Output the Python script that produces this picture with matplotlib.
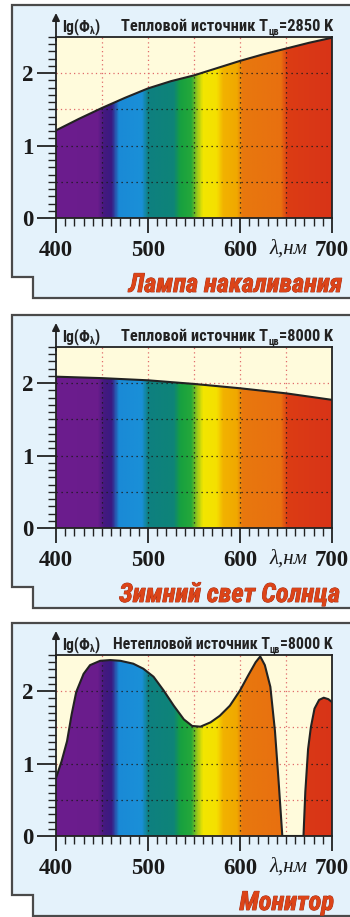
import matplotlib
matplotlib.use('Agg')
import matplotlib.pyplot as plt
import matplotlib.patheffects as pe
from matplotlib.patches import Polygon
from matplotlib.colors import LinearSegmentedColormap
from matplotlib.ticker import MultipleLocator
import numpy as np

W, H = 350, 917

# ── data ─────────────────────────────────────────────────────────────────
lamp_wl = [400, 425, 450, 475, 500, 525, 550, 575, 600, 625, 650, 675, 700]
lamp_lg = [1.21, 1.37, 1.52, 1.66, 1.79, 1.89, 1.97, 2.07, 2.17, 2.26, 2.34, 2.42, 2.49]

sun_wl = [400, 450, 500, 550, 600, 650, 700]
sun_lg = [2.09, 2.07, 2.04, 1.99, 1.93, 1.86, 1.77]

mon_wl = [400, 406, 412, 417, 422, 430, 437, 448, 459, 470, 484, 495, 506, 517,
          528, 539, 548, 557, 568, 578, 589, 600, 609, 617, 622, 627, 633, 638,
          642, 646, 669, 671, 674, 677, 681, 686, 691, 696, 700]
mon_lg = [0.80, 1.03, 1.31, 1.68, 1.99, 2.24, 2.36, 2.42, 2.43, 2.42, 2.38, 2.31,
          2.20, 2.01, 1.80, 1.61, 1.52, 1.51, 1.57, 1.66, 1.80, 2.01, 2.22, 2.40,
          2.48, 2.36, 2.06, 1.45, 0.75, 0.00, 0.00, 0.61, 1.20, 1.50, 1.76, 1.88,
          1.91, 1.89, 1.85]

kinds = ['Тепловой источник', 'Тепловой источник', 'Нетепловой источник']
temps = ['2850', '8000', '8000']
captions = ['Лампа накаливания', 'Зимний свет Солнца', 'Монитор']
x_ticks = [400, 500, 600, 700]
y_ticks = [0, 1, 2]

# spectrum colours by wavelength
spec_stops = [(400, '#6c1d8e'), (445, '#6a1c8c'), (452, '#44197f'), (460, '#3a1a82'),
              (468, '#1a8ad6'), (493, '#1a90d8'), (500, '#0e8080'), (528, '#0e8478'),
              (535, '#17a040'), (547, '#25a83a'), (553, '#94c41c'), (560, '#f2e600'),
              (575, '#f5e000'), (582, '#f2b200'), (597, '#f0a800'), (603, '#e8780e'),
              (645, '#e87010'), (652, '#dc3c14'), (700, '#d83418')]
spec = LinearSegmentedColormap.from_list(
    'spec', [((w - 400) / 300, c) for w, c in spec_stops])

NARROW = ['Roboto Condensed', 'Roboto', 'DejaVu Sans']
DARK = '#222222'

fig = plt.figure(figsize=(W / 100, H / 100), dpi=100)
fig.patch.set_facecolor('white')
renderer = fig.canvas.get_renderer()


def fx(x):
    return x / W


def fy(y):
    return 1 - y / H


def width_at(s, size, **kw):
    t = fig.text(0, 0, s, fontsize=size, **kw)
    w = t.get_window_extent(renderer).width
    t.remove()
    return w


def put_right(x_right, y_base, s, size, **kw):
    t = fig.text(fx(x_right), fy(y_base), s, ha='right', va='baseline',
                 fontsize=size, **kw)
    return x_right - t.get_window_extent(renderer).width


hdr_kw = dict(family=NARROW, fontweight='bold', color=DARK)
cap_kw = dict(family=NARROW, fontweight='bold', style='italic')
SUB = 0.62

# header sizes fitted to the span each header takes in the reference
hdr_start = [122, 122, 113]
hdr_sizes = []
for i in range(3):
    w10 = (width_at(kinds[i] + ' T', 10, **hdr_kw)
           + width_at('цв', 10 * SUB, **hdr_kw)
           + width_at(f'={temps[i]} K', 10, **hdr_kw))
    hdr_sizes.append(10 * (333 - hdr_start[i]) / w10)
lg_size = min(hdr_sizes)
cap_size = 10 * 214 / width_at(captions[0], 10, **cap_kw)

panels = [(lamp_wl, lamp_lg), (sun_wl, sun_lg), (mon_wl, mon_lg)]
offsets = [0, 310, 618]
cap_right = [342, 340, 334]

for i, ((wl, lg), dy) in enumerate(zip(panels, offsets)):
    # background box with the notch at lower left
    box = [(12, 5), (360, 5), (360, 298), (33, 298), (33, 277), (12, 277)]
    fig.add_artist(Polygon([(fx(x), fy(y + dy)) for x, y in box], closed=True,
                           transform=fig.transFigure, facecolor='#e4f2fb',
                           edgecolor='#4a4a4a', lw=1.6, zorder=-5))

    ax = fig.add_axes([fx(56), fy(218 + dy), 276 / W, 181 / H])
    ax.set_facecolor('#fffbdc')

    # red dotted grid in the empty part
    gx = [450, 500, 550, 600, 650]
    gy = [0.5, 1.0, 1.5, 2.0]
    ax.vlines(gx, 0, 2.5, colors='#e06a6a', linestyles=(0, (1, 2.5)), lw=0.9, zorder=1)
    ax.hlines(gy, 400, 700, colors='#e06a6a', linestyles=(0, (1, 2.5)), lw=0.9, zorder=1)

    verts = [(wl[0], 0)] + list(zip(wl, lg)) + [(wl[-1], 0)]
    clip = Polygon(verts, closed=True, facecolor='none', edgecolor='none')
    ax.add_patch(clip)

    grad = np.linspace(0, 1, 600).reshape(1, -1)
    im = ax.imshow(grad, cmap=spec, extent=[400, 700, 0, 2.5], aspect='auto',
                   interpolation='bilinear', zorder=2)
    im.set_clip_path(clip)

    gv = ax.vlines(gx, 0, 2.5, colors='#1a1a1a', linestyles=(0, (1, 3)), lw=0.9, zorder=3)
    gh = ax.hlines(gy, 400, 700, colors='#1a1a1a', linestyles=(0, (1, 3)), lw=0.9, zorder=3)
    gv.set_clip_path(clip)
    gh.set_clip_path(clip)

    ax.plot(wl, lg, color=DARK, lw=1.5, zorder=4, solid_joinstyle='round')

    ax.set_xlim(400, 700)
    ax.set_ylim(0, 2.5)
    for s in ax.spines.values():
        s.set_color(DARK)
        s.set_linewidth(1.3)
        s.set_zorder(5)

    ax.set_xticks(x_ticks)
    ax.set_yticks(y_ticks)
    ax.xaxis.set_minor_locator(MultipleLocator(10))
    ax.yaxis.set_minor_locator(MultipleLocator(0.1))
    ax.tick_params(which='major', axis='x', direction='out', length=11, width=1.3,
                   color=DARK, pad=5)
    ax.tick_params(which='major', axis='y', direction='out', length=14, width=1.3,
                   color=DARK, pad=2)
    ax.tick_params(which='minor', direction='out', length=6, width=1.0, color=DARK)
    for lab in ax.get_xticklabels() + ax.get_yticklabels():
        lab.set_family('Liberation Serif')
        lab.set_fontweight('bold')
        lab.set_fontsize(16.5)
        lab.set_color('#1a1a1a')

    # y axis arrow
    ax.annotate('', xy=(0, 1 + 24 / 181), xytext=(0, 0.98), xycoords='axes fraction',
                arrowprops=dict(arrowstyle='-|>', color=DARK, lw=1.3,
                                mutation_scale=11, shrinkA=0, shrinkB=0),
                annotation_clip=False)

    fig.text(fx(289), fy(249 + dy), 'λ,нм', ha='center', va='center',
             family='Liberation Serif', style='italic', fontsize=15, color='#1a1a1a')

    # header: lg(Φλ)   <kind> Tцв=<temp> K
    xl = fig.text(fx(62), fy(31 + dy), 'lg(Φ', ha='left', va='baseline',
                  fontsize=lg_size, **hdr_kw)
    x2 = 62 + xl.get_window_extent(renderer).width
    sub = fig.text(fx(x2), fy(34 + dy), 'λ', ha='left', va='baseline',
                   fontsize=lg_size * SUB, **hdr_kw)
    x3 = x2 + sub.get_window_extent(renderer).width
    fig.text(fx(x3), fy(31 + dy), ')', ha='left', va='baseline',
             fontsize=lg_size, **hdr_kw)

    hs = hdr_sizes[i]
    xr = put_right(333, 31 + dy, f'={temps[i]} K', hs, **hdr_kw)
    xr = put_right(xr, 34 + dy, 'цв', hs * SUB, **hdr_kw)
    put_right(xr, 31 + dy, kinds[i] + ' T', hs, **hdr_kw)

    fig.text(fx(cap_right[i]), fy(292 + dy), captions[i], ha='right', va='baseline',
             fontsize=cap_size, color='#dc4418',
             path_effects=[pe.withStroke(linewidth=0.6, foreground='#a02a12')],
             **cap_kw)

fig.savefig('out.png', dpi=100)
